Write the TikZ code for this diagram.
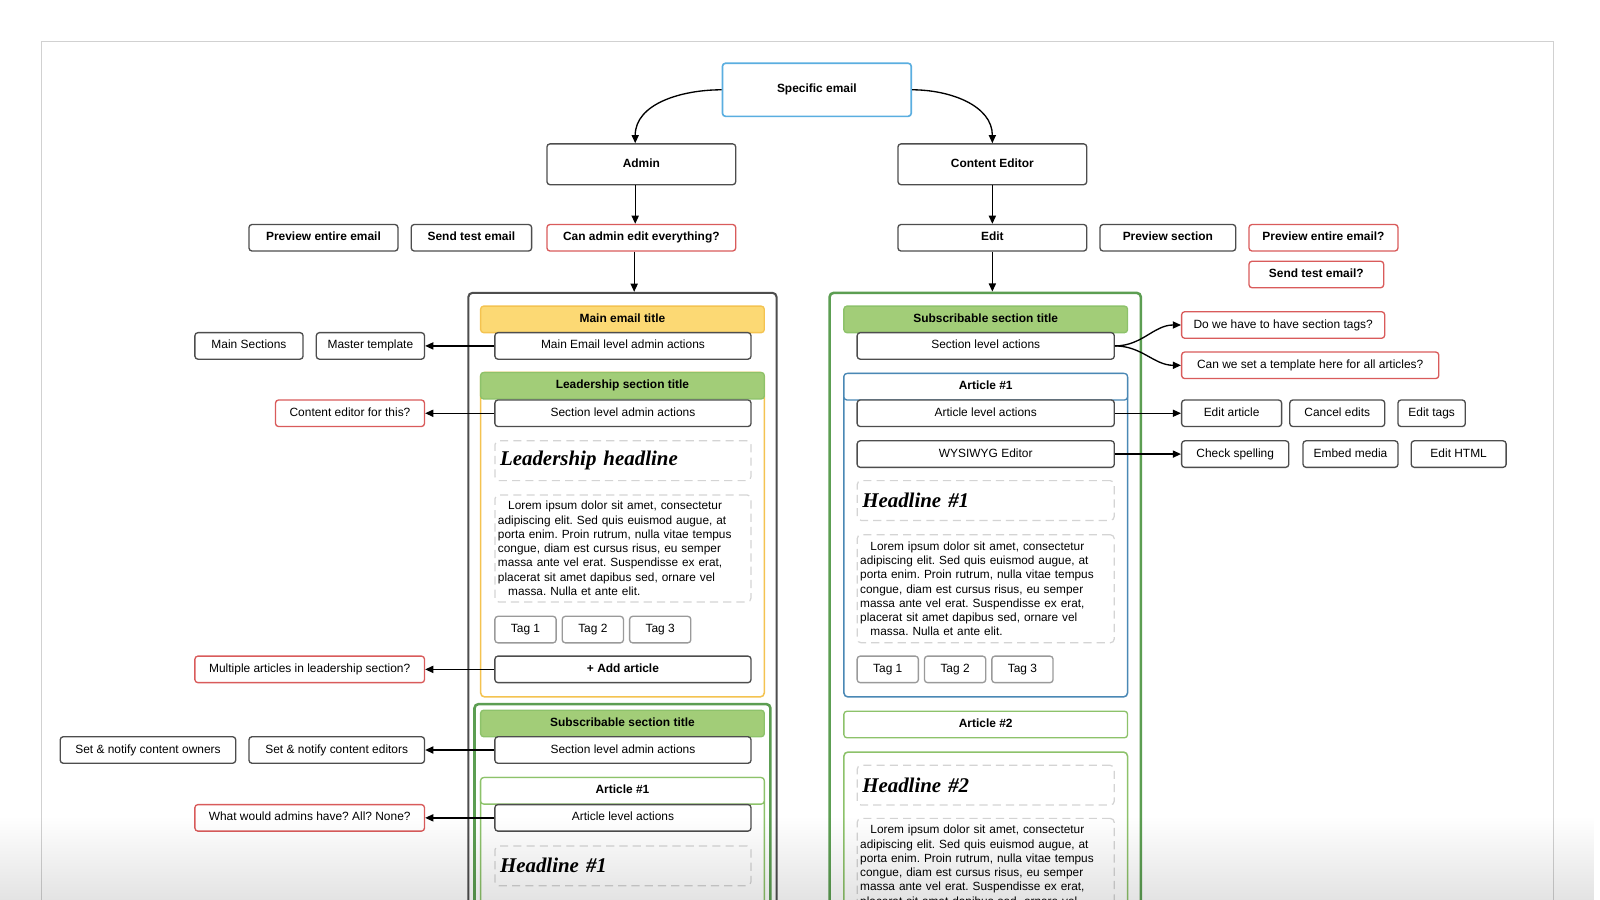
\documentclass[tikz,border=0pt]{standalone}
\usepackage{fontspec}
\setmainfont{Liberation Sans}
\newfontfamily\headfont{Liberation Serif}
\usetikzlibrary{arrows.meta,fadings}
\frenchspacing
\definecolor{dk}{HTML}{4D4D4D}
\definecolor{rd}{HTML}{D95B5B}
\definecolor{bl}{HTML}{5AAEE0}
\definecolor{stl}{HTML}{4A88B5}
\definecolor{gn}{HTML}{A2CD78}
\definecolor{gnd}{HTML}{5C9E52}
\definecolor{gnl}{HTML}{8DC26A}
\definecolor{yl}{HTML}{FCD974}
\definecolor{yld}{HTML}{F4C350}
\definecolor{tg}{HTML}{9A9A9A}
\definecolor{ds}{HTML}{D4D4D4}
\newcommand{\loremtxt}{\hspace*{10pt}Lorem ipsum dolor sit amet, consectetur\\adipiscing elit. Sed quis euismod augue, at\\porta enim. Proin rutrum, nulla vitae tempus\\congue, diam est cursus risus, eu semper\\massa ante vel erat. Suspendisse ex erat,\\placerat sit amet dapibus sed, ornare vel\\\hspace*{10pt}massa. Nulla et ante elit.}
\begin{document}
\begin{tikzpicture}[x=1pt,y=-1pt,
  w/.style={minimum width=#1pt},
  h/.style={minimum height=#1pt},
  lbl/.style={rectangle, rounded corners=3pt, draw=dk, line width=1.3pt, fill=white, inner sep=2pt, minimum height=26pt, text height=8.6pt, text depth=2.6pt, font=\fontsize{11.7}{14}\selectfont},
  blbl/.style={lbl, font=\fontsize{11.7}{14}\selectfont\bfseries},
  ask/.style={lbl, draw=rd},
  bask/.style={blbl, draw=rd},
  tag/.style={lbl, draw=tg},
  gttl/.style={blbl, fill=gn, draw=gnl},
  yttl/.style={blbl, fill=yl, draw=yld},
  pan/.style={rectangle, rounded corners=4pt, line width=2pt, fill=white, inner sep=0pt},
  dbox/.style={rectangle, rounded corners=4pt, draw=ds, line width=1.2pt, dash pattern=on 8pt off 5pt},
  hdl/.style={dbox, text width=241pt, inner sep=5pt, align=left, font=\headfont\fontsize{20.5}{24}\selectfont\bfseries\itshape},
  lor/.style={dbox, text width=245pt, inner sep=3pt, align=left, font=\fontsize{11.6}{14}\selectfont},
  arr/.style={-{Triangle[length=8pt,width=7pt]}, line width=1.3pt, black}]
\clip (0,0) rectangle (1568,882);
\fill[white] (0,0) rectangle (1568,882);
\draw[black!18, line width=1pt, fill=white] (41,41) rectangle (1522,900);
\node[blbl, draw=bl, line width=1.6pt, w=185, h=52] (se) at (800.5,88) {Specific email};
\node[blbl, w=185, h=40] (adm) at (628.5,161) {Admin};
\node[blbl, w=185, h=40] (ced) at (972.5,161) {Content Editor};
\node[blbl, w=146] (pee) at (317,233) {Preview entire email};
\node[blbl, w=118] (ste) at (462,233) {Send test email};
\node[bask, w=185] (cae) at (628.5,233) {Can admin edit everything?};
\node[blbl, w=185] (edt) at (972.5,233) {Edit};
\node[blbl, w=133] (prs) at (1144.5,233) {Preview section};
\node[bask, w=146] (pee2) at (1297,233) {Preview entire email?};
\node[bask, w=132] (ste2) at (1290,269) {Send test email?};
\draw[arr] (se.west) to[out=180,in=90] ([xshift=-6pt]adm.north);
\draw[arr] (se.east) to[out=0,in=90] (ced.north);
\draw[arr] ([xshift=-6pt]adm.south) -- ([xshift=-6pt]cae.north);
\draw[arr] (ced.south) -- (edt.north);
\node[pan, draw=dk, w=302, h=643] (lpan) at (610,608.5) {};
\node[yttl, w=278] (mtit) at (610,313) {Main email title};
\node[lbl, w=251] (mact) at (610.5,339) {Main Email level admin actions};
\node[pan, draw=yld, line width=1.5pt, w=278, h=318] (lsec) at (610,524) {};
\node[gttl, w=278] (ltit) at (610,378) {Leadership section title};
\node[lbl, w=251] (lact) at (610.5,405) {Section level admin actions};
\node[hdl, h=39] (lhd) at (610.5,451.5) {Leadership headline};
\node[lor, h=105] (llo) at (610.5,537.5) {\loremtxt};
\node[tag, w=60] (ltg1) at (515,617) {Tag 1};
\node[tag, w=60] (ltg2) at (581,617) {Tag 2};
\node[tag, w=60] (ltg3) at (647,617) {Tag 3};
\node[blbl, w=251] (ladd) at (610.5,656) {+ Add article};
\node[pan, draw=gnd, line width=2.5pt, w=290, h=240] (ssec) at (610,810) {};
\node[gttl, w=278] (stit) at (610,709) {Subscribable section title};
\node[lbl, w=251] (sact) at (610.5,735) {Section level admin actions};
\node[pan, draw=gnl, line width=1.5pt, w=278, h=168] (sart) at (610,846) {};
\node[blbl, draw=gnl, w=278] (stt) at (610,775) {Article \#1};
\node[lbl, w=251] (saa) at (610.5,801.5) {Article level actions};
\node[hdl, h=39] (shd) at (610.5,848.5) {Headline \#1};
\draw[arr] ([xshift=-7pt]cae.south) -- ([xshift=-7pt]cae.south |- lpan.north);
\node[lbl, w=106] (msec) at (244,339) {Main Sections};
\node[lbl, w=106] (mtpl) at (363,339) {Master template};
\node[ask, w=146] (cedq) at (343,405) {Content editor for this?};
\node[ask, w=225] (mul) at (303.5,656) {Multiple articles in leadership section?};
\node[lbl, w=172] (own) at (145,735) {Set \& notify content owners};
\node[lbl, w=172] (edi) at (330,735) {Set \& notify content editors};
\node[ask, w=225] (wha) at (303.5,801.5) {What would admins have? All? None?};
\draw[arr] (mact.west) -- (mtpl.east);
\draw[arr] (lact.west) -- (cedq.east);
\draw[arr] (ladd.west) -- (mul.east);
\draw[arr] (sact.west) -- (edi.east);
\draw[arr] (saa.west) -- (wha.east);
\node[pan, draw=gnd, line width=2.5pt, w=305, h=643] (rpan) at (965.5,608.5) {};
\node[gttl, w=278] (rtit) at (966,313) {Subscribable section title};
\node[lbl, w=252] (ract) at (966,339) {Section level actions};
\node[pan, draw=stl, line width=1.5pt, w=278, h=317] (art1) at (966,524.5) {};
\node[blbl, draw=stl, w=278] (a1t) at (966,379) {Article \#1};
\node[lbl, w=252] (a1a) at (966,405) {Article level actions};
\node[lbl, w=252] (wys) at (966,445) {WYSIWYG Editor};
\node[hdl, text width=242pt, h=39] (rhd1) at (966,490.5) {Headline \#1};
\node[lor, text width=246pt, h=106] (rlo1) at (966,577) {\loremtxt};
\node[tag, w=60] (rtg1) at (870,656) {Tag 1};
\node[tag, w=60] (rtg2) at (936,656) {Tag 2};
\node[tag, w=60] (rtg3) at (1002,656) {Tag 3};
\node[blbl, draw=gnl, w=278] (a2t) at (966,710) {Article \#2};
\node[pan, draw=gnl, line width=1.5pt, w=278, h=193] (a2b) at (966,833.5) {};
\node[hdl, text width=242pt, h=39] (rhd2) at (966,769.5) {Headline \#2};
\node[lor, text width=246pt, h=106] (rlo2) at (966,855) {\loremtxt};
\draw[arr] (edt.south) -- (edt.south |- rpan.north);
\node[ask, w=199] (q1) at (1257.5,318.5) {Do we have to have section tags?};
\node[ask, w=252] (q2) at (1284,358) {Can we set a template here for all articles?};
\node[lbl, w=98] (eart) at (1207,405) {Edit article};
\node[lbl, w=93] (cedt) at (1310.5,405) {Cancel edits};
\node[lbl, w=66] (etag) at (1403,405) {Edit tags};
\node[lbl, w=105] (chk) at (1210.5,445) {Check spelling};
\node[lbl, w=93] (emb) at (1323.5,445) {Embed media};
\node[lbl, w=93] (ehtm) at (1429.5,445) {Edit HTML};
\draw[arr] (ract.east) to[out=0,in=180] (q1.west);
\draw[arr] (ract.east) to[out=0,in=180] (q2.west);
\draw[arr] (a1a.east) -- (eart.west);
\draw[arr] (wys.east) -- (chk.west);
\fill[black, fill opacity=0.11, path fading=north] (0,800) rectangle (1568,882);
\end{tikzpicture}
\end{document}
